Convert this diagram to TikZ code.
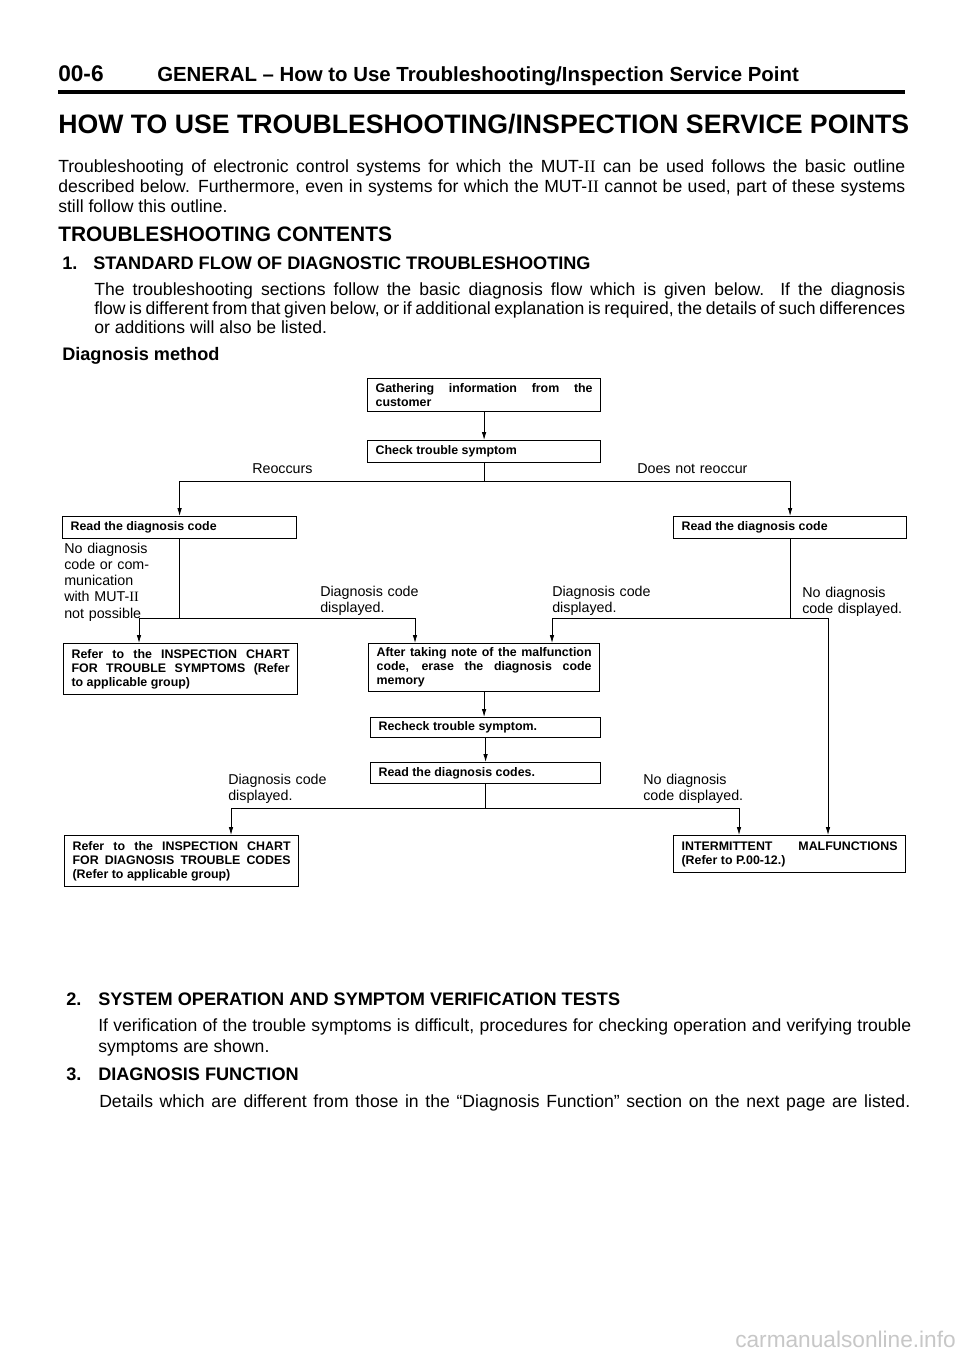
\documentclass[tikz,border=0pt]{standalone}
\usepackage{fontspec}
\setmainfont{Liberation Sans}
\newfontfamily\serifii{Liberation Serif}
\usepackage{tikz}
\usetikzlibrary{arrows.meta,positioning}

\tolerance=10000
\newcommand{\mutii}{MUT-{\serifii II}}
\newcommand{\bodyfont}{\fontsize{13.2pt}{15pt}\selectfont}
\newcommand{\boxfont}{\bfseries\fontsize{9.3pt}{10.5pt}\selectfont}
\newcommand{\lblfont}{\fontsize{10.7pt}{12.2pt}\selectfont}
\newcommand{\secfont}{\bfseries\fontsize{13.6pt}{15pt}\selectfont}

\begin{document}
\begin{tikzpicture}[
  x=0.75pt, y=-0.75pt,
  flowbox/.style={draw, line width=0.9pt, anchor=north west, inner xsep=6pt, inner ysep=2pt, align=justify, font=\boxfont},
  lbl/.style={anchor=base west, inner sep=0pt, text width=92pt, align=left, font=\lblfont},
  para/.style={anchor=base west, inner sep=0pt, align=justify, font=\bodyfont},
  head/.style={anchor=base west, inner sep=0pt},
  arr/.style={-{Latex[length=6pt,width=3.4pt]}, line width=0.6pt},
  link/.style={line width=0.6pt}
]
  \fill[white] (0,0) rectangle (960,1358);
  \useasboundingbox (0,0) rectangle (960,1358);

  % page heading
  \node[head, font=\bfseries\fontsize{17pt}{17pt}\selectfont] (pageNo) at (58,82) {00-6};
  \node[head, font=\bfseries\fontsize{15.3pt}{16pt}\selectfont] (pageHead) at (157,82) {GENERAL -- How to Use Troubleshooting/Inspection Service Point};
  \draw[line width=2.4pt] (58,92) -- (905,92);
  \node[head, font=\bfseries\fontsize{20pt}{22pt}\selectfont] (pageTitle) at (58,134) {HOW TO USE TROUBLESHOOTING/INSPECTION SERVICE POINTS};

  \node[para, text width=635.25pt] (introText) at (58,173) {Troubleshooting of electronic control systems for which the \mutii{} can be used follows the basic outline\linebreak described below. Furthermore, even in systems for which the \mutii{} cannot be used, part of these systems\linebreak still follow this outline.};

  \node[head, font=\bfseries\fontsize{15.7pt}{17pt}\selectfont] (contents) at (58,242) {TROUBLESHOOTING CONTENTS};
  \node[head, font=\secfont] (secOneNo) at (62,270) {1.};
  \node[head, font=\secfont] (secOne) at (93,270) {STANDARD FLOW OF DIAGNOSTIC TROUBLESHOOTING};
  \node[para, text width=608.25pt, font=\fontsize{13.2pt}{14.25pt}\selectfont] (secOneText) at (94,296) {The troubleshooting sections follow the basic diagnosis flow which is given below. If the diagnosis\linebreak flow is different from that given below, or if additional explanation is required, the details of such differences\linebreak or additions will also be listed.};
  \node[head, font=\secfont] (method) at (62,360) {Diagnosis method};

  % flow chart boxes
  \node[flowbox, text width=162.75pt, minimum height=24.75pt] (gather) at (367,378) {Gathering information from the\linebreak customer};
  \node[flowbox, text width=162.75pt, minimum height=16.5pt] (check) at (367,440) {Check trouble symptom};
  \node[flowbox, text width=163.5pt, minimum height=16.5pt] (readL) at (62,516) {Read the diagnosis code};
  \node[flowbox, text width=162.75pt, minimum height=16.5pt] (readR) at (673,516) {Read the diagnosis code};
  \node[flowbox, text width=163.5pt, minimum height=38.25pt] (referSym) at (63,643) {Refer to the INSPECTION CHART\linebreak FOR TROUBLE SYMPTOMS (Refer\linebreak to applicable group)};
  \node[flowbox, text width=161.25pt, minimum height=36pt] (erase) at (368,643) {After taking note of the malfunction\linebreak code, erase the diagnosis code\linebreak memory};
  \node[flowbox, text width=160.5pt, minimum height=15pt] (recheck) at (370,717) {Recheck trouble symptom.};
  \node[flowbox, text width=160.5pt, minimum height=15.75pt] (readCodes) at (370,762) {Read the diagnosis codes.};
  \node[flowbox, text width=163.5pt, minimum height=38.25pt] (referCodes) at (64,835) {Refer to the INSPECTION CHART\linebreak FOR DIAGNOSIS TROUBLE CODES\linebreak (Refer to applicable group)};
  \node[flowbox, text width=162pt, minimum height=27.75pt] (intermit) at (673,835) {INTERMITTENT MALFUNCTIONS\linebreak (Refer to P.00-12.)};

  % branch labels
  \node[lbl] (lblReoccurs) at (252,473) {Reoccurs};
  \node[lbl] (lblNoReoccur) at (637,473) {Does not reoccur};
  \node[lbl, text width=80pt] (lblNoCommL) at (64,553) {No diagnosis\\code or com-\\munication\\with \mutii\\not possible};
  \node[lbl] (lblCodeL) at (320,596) {Diagnosis code\\displayed.};
  \node[lbl] (lblCodeR) at (552,596) {Diagnosis code\\displayed.};
  \node[lbl] (lblNoCodeR) at (802,597) {No diagnosis\\code displayed.};
  \node[lbl] (lblCodeB) at (228,784) {Diagnosis code\\displayed.};
  \node[lbl] (lblNoCodeB) at (643,784) {No diagnosis\\code displayed.};

  % connectors
  \draw[arr] (gather.south) -- (gather.south |- check.north);
  \draw[link] (check.south) -- (check.south |- 0,481) coordinate (tsplit);
  \draw[arr] (tsplit) -| (readL.north);
  \draw[arr] (tsplit) -| (readR.north);

  \draw[link] (readL.south) -- (readL.south |- 0,618) coordinate (lsplit);
  \coordinate (lEndA) at (139,618);
  \coordinate (lEndB) at (415,618);
  \draw[arr] (lsplit) -- (lEndA) -- (lEndA |- referSym.north);
  \draw[arr] (lsplit) -- (lEndB) -- (lEndB |- erase.north);

  \draw[link] (readR.south) -- (readR.south |- 0,618) coordinate (rsplit);
  \coordinate (rEndA) at (552,618);
  \coordinate (rEndB) at (828,618);
  \draw[arr] (rsplit) -- (rEndA) -- (rEndA |- erase.north);
  \draw[arr] (rsplit) -- (rEndB) -- (rEndB |- intermit.north);

  \draw[arr] (erase.south) -- (erase.south |- recheck.north);
  \draw[arr] (recheck.south) -- (recheck.south |- readCodes.north);

  \draw[link] (readCodes.south) -- (readCodes.south |- 0,808) coordinate (bsplit);
  \coordinate (bEndA) at (231,808);
  \coordinate (bEndB) at (739,808);
  \draw[arr] (bsplit) -- (bEndA) -- (bEndA |- referCodes.north);
  \draw[arr] (bsplit) -- (bEndB) -- (bEndB |- intermit.north);

  % further sections
  \node[head, font=\secfont] (secTwoNo) at (66,1005) {2.};
  \node[head, font=\secfont] (secTwo) at (98,1005) {SYSTEM OPERATION AND SYMPTOM VERIFICATION TESTS};
  \node[para, text width=609.75pt, font=\fontsize{13.2pt}{15.75pt}\selectfont] (secTwoText) at (98,1031) {If verification of the trouble symptoms is difficult, procedures for checking operation and verifying trouble\linebreak symptoms are shown.};
  \node[head, font=\secfont] (secThreeNo) at (66,1080) {3.};
  \node[head, font=\secfont] (secThree) at (98,1080) {DIAGNOSIS FUNCTION};
  \node[head, font=\bodyfont] (secThreeText) at (99,1107) {\hbox to 608.25pt{Details which are different from those in the “Diagnosis Function” section on the next page are listed.}};

  \node[head, font=\fontsize{17pt}{18pt}\selectfont, text=black!22] (siteMark) at (735,1347) {carmanualsonline.info};
\end{tikzpicture}
\end{document}
